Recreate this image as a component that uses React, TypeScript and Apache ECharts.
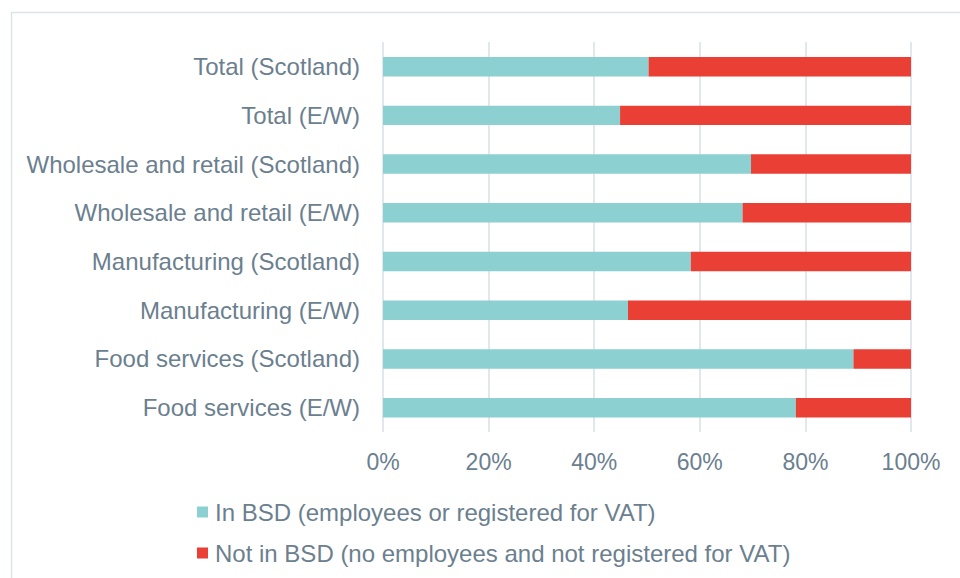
import React, { useEffect, useRef } from "react";
import * as echarts from "echarts";

const categories = [
  "Total (Scotland)",
  "Total (E/W)",
  "Wholesale and retail (Scotland)",
  "Wholesale and retail (E/W)",
  "Manufacturing (Scotland)",
  "Manufacturing (E/W)",
  "Food services (Scotland)",
  "Food services (E/W)",
];
const inBSD = [50.3, 44.9, 69.7, 68.1, 58.3, 46.4, 89.1, 78.2];
const notInBSD = [49.7, 55.1, 30.3, 31.9, 41.7, 53.6, 10.9, 21.8];
const seriesNames = [
  "In BSD (employees or registered for VAT)",
  "Not in BSD (no employees and not registered for VAT)",
];

const TEXT = "#6b7f8f";
const FONT = "'Liberation Sans', Arial, sans-serif";

export default function App() {
  const ref = useRef<HTMLDivElement>(null);
  useEffect(() => {
    if (!ref.current) return;
    const chart = echarts.init(ref.current, null, { renderer: "svg" });
    chart.setOption({
      animation: false,
      backgroundColor: "#ffffff",
      textStyle: { fontFamily: FONT },
      graphic: [
        {
          type: "rect",
          shape: { x: 11.5, y: 12.5, width: 1200, height: 1200 },
          style: { fill: "none", stroke: "#dde3e8", lineWidth: 1.5 },
          silent: true,
        },
      ],
      grid: { left: 383, right: 49, top: 42.3, bottom: 146, containLabel: false },
      legend: {
        orient: "vertical",
        left: 192,
        top: 495,
        itemWidth: 11,
        itemHeight: 11,
        itemGap: 17,
        icon: "rect",
        data: seriesNames,
        textStyle: {
          color: TEXT,
          fontSize: 24,
          fontFamily: FONT,
          lineHeight: 24,
          padding: [0, 0, 0, 2],
        },
      },
      xAxis: {
        type: "value",
        min: 0,
        max: 100,
        interval: 20,
        axisLine: { show: false },
        axisTick: { show: false },
        axisLabel: {
          formatter: "{value}%",
          color: TEXT,
          fontSize: 23,
          fontFamily: FONT,
          margin: 18,
        },
        splitLine: { show: true, lineStyle: { color: "#d9dfe4", width: 1.5 } },
      },
      yAxis: {
        type: "category",
        data: categories,
        inverse: true,
        axisLine: { show: false },
        axisTick: { show: false },
        axisLabel: {
          color: TEXT,
          fontSize: 24,
          fontFamily: FONT,
          margin: 23,
        },
      },
      series: [
        {
          name: seriesNames[0],
          type: "bar",
          stack: "total",
          barWidth: "40%",
          data: inBSD,
          itemStyle: { color: "#8dd0d1" },
        },
        {
          name: seriesNames[1],
          type: "bar",
          stack: "total",
          barWidth: "40%",
          data: notInBSD,
          itemStyle: { color: "#e93f35" },
        },
      ],
    });
    return () => chart.dispose();
  }, []);
  return (
    <div
      ref={ref}
      style={{ position: "fixed", left: 0, top: 0, width: 960, height: 578 }}
    />
  );
}
